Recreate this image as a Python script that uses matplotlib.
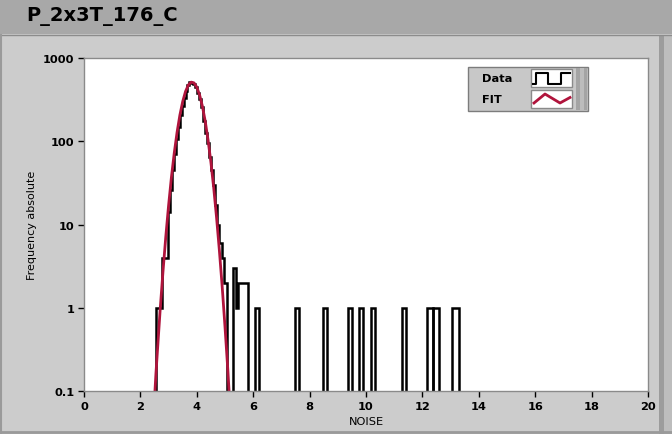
import numpy as np
import matplotlib
matplotlib.use("Agg")
import matplotlib.pyplot as plt
from matplotlib.patches import Rectangle
from matplotlib.ticker import NullLocator

# histogram (step outline, log y)
main_edges = [2.56, 2.76, 2.97, 3.04, 3.11, 3.18, 3.25, 3.32, 3.39, 3.46, 3.53,
              3.60, 3.67, 3.74, 3.81, 3.88, 3.95, 4.02, 4.09, 4.16, 4.23, 4.30,
              4.37, 4.44, 4.51, 4.58, 4.65, 4.72, 4.79, 4.88, 4.95, 5.07]
main_counts = [1, 4, 14, 26, 45, 70, 105, 150, 205, 265, 330, 400, 470, 515,
               505, 490, 445, 380, 320, 255, 175, 125, 95, 65, 45, 30, 17, 10,
               6, 4, 2]
tail_edges = [5.28, 5.40, 5.45, 5.80]
tail_counts = [3, 1, 2]
spike_left = [6.05, 7.48, 8.48, 9.37, 9.76, 10.18, 11.29, 12.17, 12.38, 13.06]
spike_right = [6.19, 7.62, 8.62, 9.51, 9.90, 10.33, 11.43, 12.38, 12.58, 13.30]
spike_counts = [1, 1, 1, 1, 1, 1, 1, 1, 1, 1]

# gaussian fit curve
fit_x = [2.50, 2.55, 2.60, 2.70, 2.80, 2.90, 3.00, 3.10, 3.20, 3.30, 3.40,
         3.50, 3.60, 3.70, 3.80, 3.90, 4.00, 4.10, 4.20, 4.30, 4.40, 4.50,
         4.60, 4.70, 4.80, 4.90, 5.00, 5.10, 5.16]
fit_y = [0.08, 0.16, 0.29, 0.94, 2.7, 7.1, 17, 37, 72, 128, 206, 300, 396,
         474, 513, 503, 446, 359, 262, 173, 103, 56, 27.5, 12.2, 4.9, 1.8,
         0.59, 0.18, 0.08]

xticks = list(range(0, 21, 2))
yticks = [0.1, 1, 10, 100, 1000]
ytick_labels = ["0.1", "1", "10", "100", "1000"]

W, H = 672, 435
fig = plt.figure(figsize=(W / 100, H / 100), dpi=100)
fig.patch.set_facecolor("#cccccc")

# background panel (pixel coords)
bg = fig.add_axes([0, 0, 1, 1], zorder=0)
bg.set_xlim(0, W)
bg.set_ylim(H, 0)
bg.axis("off")
bg.add_patch(Rectangle((0, 0), W, 35, fc="#a8a8a8", ec="none"))
bg.add_patch(Rectangle((0, 35), W, H - 35, fc="#cccccc", ec="none"))
bg.plot([0, W], [35.5, 35.5], color="#8c8c8c", lw=1)
bg.plot([1, 1], [36, H], color="#9a9a9a", lw=1.5)
bg.plot([0, W], [433, 433], color="#9a9a9a", lw=2)
bg.add_patch(Rectangle((659, 36), 5, H - 36, fc="#9c9c9c", ec="none"))
bg.add_patch(Rectangle((664, 36), 8, H - 36, fc="#bdbdbd", ec="none"))
bg.text(26, 16, "P_2x3T_176_C", fontsize=14, fontweight="bold",
        va="center", ha="left", color="black")

# main plot
ax = fig.add_axes([84 / W, (H - 392) / H, (648 - 84) / W, (392 - 59) / H],
                  zorder=1)
ax.set_facecolor("white")
ax.set_yscale("log")

ax.plot(fit_x, fit_y, color="#b0143c", lw=2, solid_joinstyle="round")

floor = 0.01
ax.stairs(main_counts, main_edges, baseline=floor, color="black", lw=1.8)
ax.stairs(tail_counts, tail_edges, baseline=floor, color="black", lw=1.8)
for l, r, c in zip(spike_left, spike_right, spike_counts):
    ax.stairs([c], [l, r], baseline=floor, color="black", lw=1.8)

ax.set_xlim(0, 20)
ax.set_ylim(0.1, 1000)
ax.set_xticks(xticks)
ax.set_xticklabels([str(v) for v in xticks])
ax.set_yticks(yticks)
ax.set_yticklabels(ytick_labels)
ax.yaxis.set_minor_locator(NullLocator())
ax.xaxis.set_minor_locator(NullLocator())
ax.tick_params(direction="out", length=4, width=1, colors="black",
               labelsize=8.2, pad=3)
for lbl in ax.get_xticklabels() + ax.get_yticklabels():
    lbl.set_fontweight("bold")
for s in ax.spines.values():
    s.set_color("#8a8a8a")
    s.set_linewidth(1)
ax.set_xlabel("NOISE", fontsize=8.2, labelpad=4)
ax.set_ylabel("Frequency absolute", fontsize=8, labelpad=4)

# legend drawn like the LabVIEW plot legend
lg = fig.add_axes([0, 0, 1, 1], zorder=2)
lg.set_xlim(0, W)
lg.set_ylim(H, 0)
lg.axis("off")
lg.patch.set_alpha(0)
lg.add_patch(Rectangle((468, 68), 120, 44, fc="#c8c8c8", ec="#7c7c7c", lw=1))
lg.add_patch(Rectangle((576, 69), 11, 42, fc="#a4a4a4", ec="none"))
lg.add_patch(Rectangle((580, 69), 4, 42, fc="#bcbcbc", ec="none"))
lg.add_patch(Rectangle((531, 70), 41, 18, fc="white", ec="#8a8a8a", lw=1))
lg.add_patch(Rectangle((531, 91), 41, 18, fc="white", ec="#8a8a8a", lw=1))
lg.plot([533, 536, 536, 548, 548, 561, 561, 570],
        [84.5, 84.5, 73.5, 73.5, 84.5, 84.5, 73.5, 73.5],
        color="black", lw=1.5)
lg.plot([534, 545, 560, 570], [104, 95, 104, 98.5], color="#b0143c", lw=2)
lg.text(482, 79, "Data", fontsize=8.2, fontweight="bold", va="center")
lg.text(482, 100, "FIT", fontsize=8.2, fontweight="bold", va="center")

fig.savefig("out.png", dpi=100, facecolor=fig.get_facecolor())
